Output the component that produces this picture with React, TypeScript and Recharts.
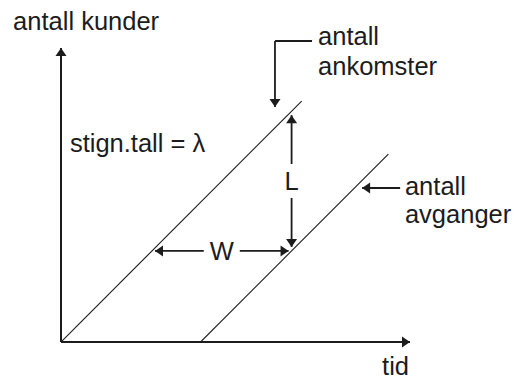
import React from 'react';
import { LineChart, Line, XAxis, YAxis, ReferenceLine, ReferenceDot } from 'recharts';

// Little's law: cumulative arrivals and departures over time
const lambda = 1; // arrival rate (slope)
const waitTime = 5.8; // W, horizontal distance between the curves

const arrivals = [
  { t: 0, n: 0 },
  { t: 10, n: 10 },
];
const departures = [
  { t: 5.8, n: 0 },
  { t: 13.6, n: 7.8 },
];

const timeDomain: [number, number] = [0, 14.5];
const countDomain: [number, number] = [0, 12.2];

// where the W and L measurements are taken
const wLevel = 3.78;
const lTime = 9.58;

// callout leaders (polylines, arrowhead on the last point)
const arrivalCallout = [
  [10.43, 12.49],
  [8.89, 12.49],
  [8.89, 9.75],
];
const departureCallout = [
  [14.09, 6.39],
  [12.51, 6.39],
];

const axisTitles = [
  { text: 'antall kunder', t: -1.99, n: 12.95 },
  { text: 'tid', t: 13.34, n: -1.37 },
];
const notes = [
  { text: 'stign.tall = λ', t: 0.37, n: 7.88 },
  { text: 'antall', t: 10.68, n: 12.32 },
  { text: 'ankomster', t: 10.68, n: 11.08 },
  { text: 'antall', t: 14.29, n: 6.1 },
  { text: 'avganger', t: 14.29, n: 4.94 },
];

const FONT = "'Liberation Sans', Arial, sans-serif";
const FONT_SIZE = 25.5;
const INK = '#1c1c1c';

function headPoints(x: number, y: number, ux: number, uy: number, len = 8, half = 5.5) {
  const bx = x - ux * len;
  const by = y - uy * len;
  const px = -uy;
  const py = ux;
  return `${x},${y} ${bx + px * half},${by + py * half} ${bx - px * half},${by - py * half}`;
}

type ArrowOpts = {
  heads: 'none' | 'end' | 'both';
  width: number;
  inset?: number;
  gap?: number;
  label?: string;
};

const makeArrow = (o: ArrowOpts) => (p: any) => {
  const { x1, y1, x2, y2 } = p;
  const len = Math.hypot(x2 - x1, y2 - y1) || 1;
  const ux = (x2 - x1) / len;
  const uy = (y2 - y1) / len;
  const inset = o.inset ?? 0;
  const sx = x1 + ux * inset;
  const sy = y1 + uy * inset;
  const ex = x2 - ux * inset;
  const ey = y2 - uy * inset;
  const mx = (sx + ex) / 2;
  const my = (sy + ey) / 2;
  const segs: number[][] = o.gap
    ? [
        [sx, sy, mx - (ux * o.gap) / 2, my - (uy * o.gap) / 2],
        [mx + (ux * o.gap) / 2, my + (uy * o.gap) / 2, ex, ey],
      ]
    : [[sx, sy, ex, ey]];
  return (
    <g>
      {segs.map((s, i) => (
        <line key={i} x1={s[0]} y1={s[1]} x2={s[2]} y2={s[3]} stroke={INK} strokeWidth={o.width} />
      ))}
      {o.heads !== 'none' && <polygon points={headPoints(ex, ey, ux, uy)} fill={INK} />}
      {o.heads === 'both' && <polygon points={headPoints(sx, sy, -ux, -uy)} fill={INK} />}
      {o.label && (
        <text
          x={mx}
          y={my + FONT_SIZE * 0.36}
          textAnchor="middle"
          fontFamily={FONT}
          fontSize={FONT_SIZE}
          fill={INK}
        >
          {o.label}
        </text>
      )}
    </g>
  );
};

const textShape = (text: string) => (p: any) => (
  <text x={p.cx} y={p.cy} fontFamily={FONT} fontSize={FONT_SIZE} fill={INK}>
    {text}
  </text>
);

function polylineSegments(points: number[][]) {
  const segs: { from: number[]; to: number[]; last: boolean }[] = [];
  for (let i = 0; i < points.length - 1; i++) {
    segs.push({ from: points[i], to: points[i + 1], last: i === points.length - 2 });
  }
  return segs;
}

export default function App() {
  const callouts = [...polylineSegments(arrivalCallout), ...polylineSegments(departureCallout)];
  return (
    <div style={{ position: 'absolute', left: 0, top: 0, background: '#fff' }}>
      <LineChart width={515} height={379} margin={{ top: 48, right: 105, bottom: 0, left: 0 }}>
        <XAxis
          type="number"
          dataKey="t"
          domain={timeDomain}
          allowDataOverflow
          height={37}
          tick={false}
          tickLine={false}
          axisLine={{ stroke: INK, strokeWidth: 2 }}
        />
        <YAxis
          type="number"
          dataKey="n"
          domain={countDomain}
          allowDataOverflow
          width={61}
          tick={false}
          tickLine={false}
          axisLine={{ stroke: INK, strokeWidth: 2 }}
        />
        <Line
          data={arrivals}
          dataKey="n"
          stroke={INK}
          strokeWidth={1.1}
          dot={false}
          activeDot={false}
          isAnimationActive={false}
        />
        <Line
          data={departures}
          dataKey="n"
          stroke={INK}
          strokeWidth={1.1}
          dot={false}
          activeDot={false}
          isAnimationActive={false}
        />

        {/* axis arrowheads */}
        <ReferenceLine
          segment={[{ x: 0, y: 0 }, { x: 0, y: countDomain[1] }]}
          ifOverflow="visible"
          shape={makeArrow({ heads: 'end', width: 2 })}
        />
        <ReferenceLine
          segment={[{ x: 0, y: 0 }, { x: timeDomain[1], y: 0 }]}
          ifOverflow="visible"
          shape={makeArrow({ heads: 'end', width: 2 })}
        />

        {/* W: time between arrival and departure at the same count */}
        <ReferenceLine
          segment={[
            { x: wLevel / lambda, y: wLevel },
            { x: wLevel / lambda + waitTime, y: wLevel },
          ]}
          ifOverflow="visible"
          shape={makeArrow({ heads: 'both', width: 1.8, inset: 3, gap: 36, label: 'W' })}
        />
        {/* L: number in system at one instant */}
        <ReferenceLine
          segment={[
            { x: lTime, y: lambda * lTime },
            { x: lTime, y: lambda * (lTime - waitTime) },
          ]}
          ifOverflow="visible"
          shape={makeArrow({ heads: 'both', width: 1.8, inset: 4, gap: 34, label: 'L' })}
        />

        {callouts.map((s, i) => (
          <ReferenceLine
            key={`c${i}`}
            segment={[
              { x: s.from[0], y: s.from[1] },
              { x: s.to[0], y: s.to[1] },
            ]}
            ifOverflow="visible"
            shape={makeArrow({ heads: s.last ? 'end' : 'none', width: 1.8 })}
          />
        ))}

        {[...axisTitles, ...notes].map((d, i) => (
          <ReferenceDot
            key={`t${i}`}
            x={d.t}
            y={d.n}
            r={0}
            ifOverflow="visible"
            shape={textShape(d.text)}
          />
        ))}
      </LineChart>
    </div>
  );
}
